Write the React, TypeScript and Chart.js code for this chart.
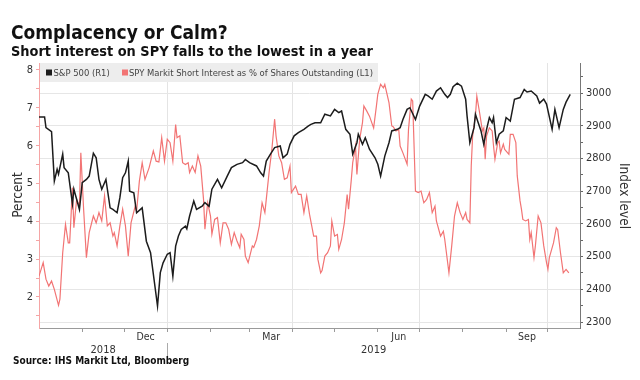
import React, { useEffect, useRef } from 'react';
import { Chart, registerables } from 'chart.js';

Chart.register(...registerables);

// ---------- data ----------
const spxDates = [
  '2018-10-01','2018-10-05','2018-10-06','2018-10-10','2018-10-12','2018-10-14','2018-10-15','2018-10-18','2018-10-19','2018-10-22',
  '2018-10-25','2018-10-26','2018-10-30','2018-11-01','2018-11-04','2018-11-06','2018-11-09','2018-11-11','2018-11-13','2018-11-15',
  '2018-11-18','2018-11-21','2018-11-23','2018-11-26','2018-11-28','2018-11-30','2018-12-02','2018-12-04','2018-12-05','2018-12-08',
  '2018-12-10','2018-12-14','2018-12-17','2018-12-20','2018-12-25','2018-12-27','2018-12-29','2019-01-01','2019-01-03','2019-01-05',
  '2019-01-07','2019-01-09','2019-01-11','2019-01-14','2019-01-15','2019-01-17','2019-01-20','2019-01-22','2019-01-26','2019-01-28',
  '2019-01-31','2019-02-02','2019-02-06','2019-02-09','2019-02-13','2019-02-16','2019-02-20','2019-02-24','2019-02-26','2019-03-01',
  '2019-03-06','2019-03-09','2019-03-11','2019-03-13','2019-03-16','2019-03-19','2019-03-23','2019-03-25','2019-03-28','2019-03-30',
  '2019-04-02','2019-04-05','2019-04-09','2019-04-12','2019-04-14','2019-04-17','2019-04-21','2019-04-24','2019-04-28','2019-05-01',
  '2019-05-04','2019-05-06','2019-05-09','2019-05-12','2019-05-14','2019-05-17','2019-05-18','2019-05-21','2019-05-23','2019-05-26',
  '2019-05-30','2019-06-01','2019-06-03','2019-06-06','2019-06-09','2019-06-11','2019-06-15','2019-06-17','2019-06-19','2019-06-22',
  '2019-06-24','2019-06-28','2019-07-01','2019-07-05','2019-07-07','2019-07-10','2019-07-13','2019-07-16','2019-07-19','2019-07-21',
  '2019-07-23','2019-07-25','2019-07-28','2019-07-31','2019-08-03','2019-08-04','2019-08-06','2019-08-09','2019-08-10','2019-08-12',
  '2019-08-14','2019-08-16','2019-08-18','2019-08-20','2019-08-22','2019-08-23','2019-08-25','2019-08-27','2019-08-30','2019-09-01',
  '2019-09-04','2019-09-07','2019-09-11','2019-09-14','2019-09-16','2019-09-19','2019-09-23','2019-09-25','2019-09-28','2019-09-30',
  '2019-10-04','2019-10-06','2019-10-09','2019-10-12','2019-10-14','2019-10-17',
];
const spxValues = [
  2927,2927,2894,2882,2731,2767,2752,2813,2772,2756,
  2661,2706,2644,2726,2736,2746,2816,2802,2736,2706,
  2736,2649,2644,2634,2680,2741,2756,2792,2700,2695,
  2634,2649,2547,2512,2349,2451,2481,2507,2512,2440,
  2532,2563,2583,2593,2585,2624,2670,2644,2654,2665,
  2654,2706,2736,2710,2746,2772,2782,2787,2797,2787,
  2777,2756,2746,2792,2813,2833,2838,2802,2813,2843,
  2869,2879,2889,2899,2904,2909,2909,2935,2930,2950,
  2940,2945,2889,2874,2813,2848,2874,2843,2863,2828,
  2802,2782,2746,2807,2848,2884,2889,2894,2919,2950,
  2955,2919,2960,2996,2991,2981,3006,3016,2996,2986,
  2996,3019,3030,3021,2981,2930,2848,2894,2935,2909,
  2884,2843,2889,2925,2909,2925,2848,2874,2884,2925,
  2914,2981,2986,3011,3003,3006,2991,2969,2981,2966,
  2889,2950,2894,2950,2972,2996,
];

const shortDates = [
  '2018-10-01','2018-10-04','2018-10-06','2018-10-08','2018-10-10','2018-10-12','2018-10-15','2018-10-16','2018-10-18','2018-10-20',
  '2018-10-22','2018-10-23','2018-10-25','2018-10-26','2018-10-28','2018-10-30','2018-10-31','2018-11-02','2018-11-04','2018-11-06',
  '2018-11-09','2018-11-11','2018-11-13','2018-11-15','2018-11-17','2018-11-19','2018-11-21','2018-11-23','2018-11-24','2018-11-26',
  '2018-11-28','2018-11-30','2018-12-02','2018-12-04','2018-12-06','2018-12-09','2018-12-10','2018-12-12','2018-12-14','2018-12-16',
  '2018-12-19','2018-12-22','2018-12-24','2018-12-26','2018-12-28','2018-12-30','2019-01-01','2019-01-03','2019-01-05','2019-01-07',
  '2019-01-08','2019-01-10','2019-01-12','2019-01-14','2019-01-16','2019-01-17','2019-01-19','2019-01-21','2019-01-23','2019-01-25',
  '2019-01-27','2019-01-28','2019-01-30','2019-02-01','2019-02-02','2019-02-04','2019-02-06','2019-02-08','2019-02-10','2019-02-12',
  '2019-02-14','2019-02-16','2019-02-18','2019-02-20','2019-02-22','2019-02-23','2019-02-25','2019-02-26','2019-02-28','2019-03-03',
  '2019-03-04','2019-03-06','2019-03-08','2019-03-10','2019-03-12','2019-03-13','2019-03-15','2019-03-17','2019-03-19','2019-03-20',
  '2019-03-22','2019-03-24','2019-03-26','2019-03-28','2019-03-30','2019-03-31','2019-04-03','2019-04-05','2019-04-07','2019-04-09',
  '2019-04-11','2019-04-13','2019-04-16','2019-04-18','2019-04-19','2019-04-21','2019-04-22','2019-04-24','2019-04-26','2019-04-28',
  '2019-04-29','2019-05-01','2019-05-03','2019-05-04','2019-05-06','2019-05-08','2019-05-10','2019-05-11','2019-05-13','2019-05-14',
  '2019-05-16','2019-05-17','2019-05-19','2019-05-21','2019-05-22','2019-05-24','2019-05-26','2019-05-29','2019-05-31','2019-06-01',
  '2019-06-03','2019-06-05','2019-06-06','2019-06-09','2019-06-11','2019-06-12','2019-06-14','2019-06-16','2019-06-17','2019-06-19',
  '2019-06-22','2019-06-23','2019-06-25','2019-06-26','2019-06-28','2019-06-30','2019-07-02','2019-07-04','2019-07-06','2019-07-08',
  '2019-07-10','2019-07-12','2019-07-13','2019-07-16','2019-07-18','2019-07-19','2019-07-22','2019-07-24','2019-07-26','2019-07-28',
  '2019-07-30','2019-08-01','2019-08-03','2019-08-04','2019-08-06','2019-08-07','2019-08-08','2019-08-10','2019-08-11','2019-08-13',
  '2019-08-15','2019-08-16','2019-08-17','2019-08-18','2019-08-20','2019-08-22','2019-08-23','2019-08-24','2019-08-26','2019-08-27',
  '2019-08-28','2019-08-30','2019-08-31','2019-09-03','2019-09-04','2019-09-06','2019-09-08','2019-09-09','2019-09-11','2019-09-12',
  '2019-09-13','2019-09-15','2019-09-17','2019-09-18','2019-09-19','2019-09-21','2019-09-22','2019-09-24','2019-09-26','2019-09-28',
  '2019-09-30','2019-10-01','2019-10-02','2019-10-05','2019-10-07','2019-10-08','2019-10-10','2019-10-12','2019-10-14','2019-10-16',
];
const shortValues = [
  2.55,2.91,2.47,2.29,2.42,2.20,1.78,1.94,3.17,3.92,
  3.43,3.43,4.89,3.83,4.58,4.40,5.81,4.32,3.04,3.70,
  4.14,3.96,4.23,4.01,4.67,3.88,3.96,3.61,3.70,3.35,
  3.88,4.32,3.88,3.08,3.96,4.40,4.27,5.07,5.55,5.11,
  5.42,5.86,5.59,5.57,6.21,5.59,6.17,6.08,5.59,6.56,
  6.21,6.26,5.55,5.50,5.55,5.29,5.46,5.29,5.73,5.46,
  4.58,3.79,4.49,4.14,3.66,4.05,4.10,3.43,3.96,3.96,
  3.79,3.39,3.70,3.48,3.30,3.66,3.52,3.08,2.91,3.35,
  3.31,3.52,3.88,4.49,4.23,4.58,5.29,5.90,6.70,6.26,
  5.73,5.55,5.11,5.15,5.46,4.76,4.93,4.71,4.71,4.23,
  4.67,4.19,3.61,3.61,3.00,2.64,2.70,3.08,3.17,3.35,
  4.01,3.61,3.65,3.26,3.52,3.96,4.71,4.32,5.11,5.55,
  5.99,5.24,6.17,6.61,7.05,6.92,6.78,6.47,7.05,7.36,
  7.62,7.53,7.62,7.14,6.52,6.50,6.39,6.43,5.99,5.81,
  5.51,6.43,7.23,7.18,4.80,4.76,4.80,4.49,4.58,4.76,
  4.23,4.40,4.01,3.61,3.74,3.52,2.64,3.35,4.14,4.49,
  4.23,4.05,4.23,4.05,3.96,5.46,6.26,6.78,7.31,6.87,
  6.39,6.47,5.64,6.26,6.47,6.39,5.99,5.64,6.08,6.12,
  5.81,6.04,5.90,5.77,6.30,6.30,6.08,5.20,4.54,4.32,
  4.05,4.01,4.05,3.52,3.70,3.04,3.35,4.14,3.96,3.35,
  2.91,2.73,3.04,3.43,3.83,3.78,3.17,2.64,2.73,2.64,
];

const axisStart = '2018-10-01';
const axisEnd = '2019-10-24';
const monthStarts = [
  '2018-11-01','2018-12-01','2019-01-01','2019-02-01','2019-03-01','2019-04-01',
  '2019-05-01','2019-06-01','2019-07-01','2019-08-01','2019-09-01','2019-10-01',
];
const quarterStarts = ['2019-01-01', '2019-04-01', '2019-07-01', '2019-10-01'];
const monthLabelNames = ['Dec', 'Mar', 'Jun', 'Sep'];
const monthLabelStarts = ['2018-12-01', '2019-03-01', '2019-06-01', '2019-09-01'];
const yearLabels = ['2018', '2019'];
const yearBoundary = '2019-01-01';
const leftTickValues = [1.5, 2, 2.5, 3, 3.5, 4, 4.5, 5, 5.5, 6, 6.5, 7, 7.5, 8];
const rightTickValues = [2300, 2350, 2400, 2450, 2500, 2550, 2600, 2650, 2700, 2750, 2800, 2850, 2900, 2950, 3000, 3050];

const titleText = 'Complacency or Calm?';
const subtitleText = 'Short interest on SPY falls to the lowest in a year';
const sourceText = 'Source: IHS Markit Ltd, Bloomberg';
const spxLabel = 'S&P 500 (R1)';
const shortLabel = 'SPY Markit Short Interest as % of Shares Outstanding (L1)';
const leftTitle = 'Percent';
const rightTitle = 'Index level';

// ---------- helpers ----------
const BASE = Date.UTC(2018, 9, 1);
function dayOf(s: string): number {
  const [y, m, d] = s.split('-').map(Number);
  return (Date.UTC(y, m - 1, d) - BASE) / 86400000;
}
function nextMonthDay(s: string): number {
  const [y, m] = s.split('-').map(Number);
  return (Date.UTC(y, m, 1) - BASE) / 86400000;
}

const COND = '"DejaVu Sans Condensed", "DejaVu Sans", sans-serif';
const BLACK = '#1c1c1c';
const RED = '#f27474';
const PINK_AXIS = '#f5a5a5';
const TEXT = '#333333';

const decorPlugin = {
  id: 'decor',
  beforeDraw(chart: any) {
    const ctx = chart.ctx;
    ctx.save();
    ctx.fillStyle = '#ffffff';
    ctx.fillRect(0, 0, chart.width, chart.height);
    ctx.restore();
  },
  afterDatasetsDraw(chart: any) {
    const ctx = chart.ctx;
    ctx.save();
    ctx.fillStyle = '#ededed';
    ctx.fillRect(40, 63, 338, 19);
    ctx.fillStyle = BLACK;
    ctx.fillRect(46, 69.5, 6, 6);
    ctx.fillStyle = RED;
    ctx.fillRect(122, 69.5, 6, 6);
    ctx.font = `9.4px ${COND}`;
    ctx.fillStyle = '#444';
    ctx.textBaseline = 'alphabetic';
    ctx.textAlign = 'left';
    ctx.fillText(spxLabel, 53.5, 76);
    ctx.fillText(shortLabel, 129, 76);
    ctx.restore();
  },
  afterDraw(chart: any) {
    const ctx = chart.ctx;
    const xs = chart.scales.x;
    ctx.save();
    ctx.textBaseline = 'alphabetic';
    ctx.textAlign = 'left';
    ctx.fillStyle = '#111';
    ctx.font = `bold 19px ${COND}`;
    ctx.fillText(titleText, 11, 39);
    ctx.font = `bold 14.4px ${COND}`;
    ctx.fillText(subtitleText, 11, 55.5);

    ctx.fillStyle = TEXT;
    ctx.textAlign = 'center';
    ctx.font = `10.5px ${COND}`;
    monthLabelNames.forEach((name, i) => {
      const a = dayOf(monthLabelStarts[i]);
      const b = nextMonthDay(monthLabelStarts[i]);
      ctx.fillText(name, xs.getPixelForValue((a + b) / 2), 340);
    });
    const yb = dayOf(yearBoundary);
    const ranges = [[dayOf(axisStart), yb], [yb, dayOf(axisEnd)]];
    ctx.font = `11px ${COND}`;
    yearLabels.forEach((y, i) => {
      ctx.fillText(y, xs.getPixelForValue((ranges[i][0] + ranges[i][1]) / 2), 352.5);
    });
    const sx = Math.round(xs.getPixelForValue(yb)) + 0.5;
    ctx.strokeStyle = '#aaa';
    ctx.lineWidth = 1;
    ctx.beginPath();
    ctx.moveTo(sx, 343);
    ctx.lineTo(sx, 356);
    ctx.stroke();

    ctx.textAlign = 'left';
    ctx.fillStyle = '#111';
    ctx.font = `bold 10px ${COND}`;
    ctx.fillText(sourceText, 13, 364);

    ctx.fillStyle = TEXT;
    ctx.font = `13.5px ${COND}`;
    ctx.textAlign = 'center';
    ctx.textBaseline = 'middle';
    ctx.save();
    ctx.translate(18, 195);
    ctx.rotate(-Math.PI / 2);
    ctx.fillText(leftTitle, 0, 0);
    ctx.restore();
    ctx.save();
    ctx.translate(623, 196);
    ctx.rotate(Math.PI / 2);
    ctx.fillText(rightTitle, 0, 0);
    ctx.restore();
    ctx.restore();
  },
};

export default function App() {
  const ref = useRef<HTMLCanvasElement | null>(null);
  useEffect(() => {
    document.body.style.margin = '0';
    if (!ref.current) return;
    const quarterDays = quarterStarts.map(dayOf);
    const chart = new Chart(ref.current, {
      type: 'line',
      data: {
        datasets: [
          {
            label: spxLabel,
            data: spxDates.map((d, i) => ({ x: dayOf(d), y: spxValues[i] })),
            yAxisID: 'y1',
            borderColor: BLACK,
            borderWidth: 1.5,
            pointRadius: 0,
            tension: 0,
          },
          {
            label: shortLabel,
            data: shortDates.map((d, i) => ({ x: dayOf(d), y: shortValues[i] })),
            yAxisID: 'y',
            borderColor: RED,
            borderWidth: 1.2,
            pointRadius: 0,
            tension: 0,
          },
        ],
      },
      options: {
        animation: false,
        responsive: false,
        maintainAspectRatio: false,
        layout: { padding: { top: 63, left: 0, right: 0, bottom: 0 } },
        plugins: { legend: { display: false }, tooltip: { enabled: false }, title: { display: false } },
        scales: {
          x: {
            type: 'linear',
            position: 'bottom',
            min: dayOf(axisStart),
            max: dayOf(axisEnd),
            afterBuildTicks: (s: any) => {
              s.ticks = monthStarts.map((d) => ({ value: dayOf(d) }));
            },
            afterFit: (s: any) => {
              s.height = 52;
            },
            ticks: { autoSkip: false, callback: () => '', padding: 0 },
            grid: {
              drawOnChartArea: true,
              color: (c: any) => (c.tick && quarterDays.includes(c.tick.value) ? '#e4e4e4' : 'rgba(0,0,0,0)'),
              tickColor: '#9a9a9a',
              tickLength: 4,
            },
            border: { color: '#9a9a9a' },
          },
          y: {
            type: 'linear',
            position: 'left',
            min: 1.18,
            max: 8.185,
            afterBuildTicks: (s: any) => {
              s.ticks = leftTickValues.map((v) => ({ value: v }));
            },
            afterFit: (s: any) => {
              s.width = 39;
            },
            ticks: {
              autoSkip: false,
              padding: 3,
              color: TEXT,
              font: { family: COND, size: 11 },
              callback: (v: any) => (Number.isInteger(v) ? String(v) : ''),
            },
            grid: { drawOnChartArea: false, tickColor: PINK_AXIS, tickLength: 3 },
            border: { color: PINK_AXIS },
          },
          y1: {
            type: 'linear',
            position: 'right',
            min: 2281.7,
            max: 3091.7,
            afterBuildTicks: (s: any) => {
              s.ticks = rightTickValues.map((v) => ({ value: v }));
            },
            afterFit: (s: any) => {
              s.width = 60;
            },
            ticks: {
              autoSkip: false,
              padding: 3,
              color: TEXT,
              font: { family: COND, size: 11 },
              callback: (v: any) => (v % 100 === 0 ? String(v) : ''),
            },
            grid: {
              drawOnChartArea: true,
              color: (c: any) => (c.tick && c.tick.value % 100 === 0 && c.tick.value <= 3000 ? '#e6e6e6' : 'rgba(0,0,0,0)'),
              tickColor: '#666',
              tickLength: 3,
            },
            border: { color: '#777' },
          },
        },
      },
      plugins: [decorPlugin],
    } as any);
    return () => chart.destroy();
  }, []);
  return (
    <div style={{ width: 640, height: 380 }}>
      <canvas ref={ref} width={640} height={380} style={{ display: 'block', width: 640, height: 380 }} />
    </div>
  );
}
